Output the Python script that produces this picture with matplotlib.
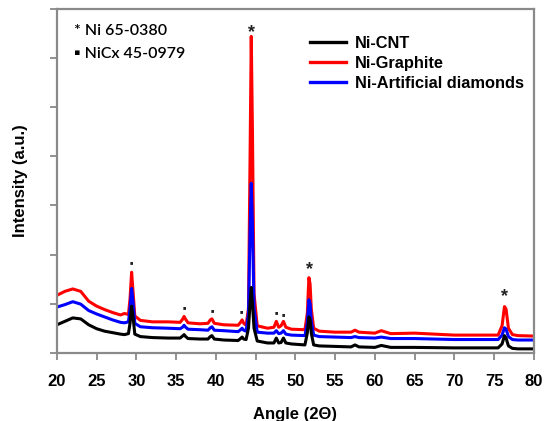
import matplotlib.pyplot as plt

plt.rcParams['font.family'] = ['Liberation Sans', 'DejaVu Sans']

# 2-theta angles shared by all three patterns
angle = [20, 21, 22, 23, 24, 25, 26, 27, 28, 28.5,
         29.0, 29.2, 29.4, 29.6, 29.8, 30.5, 32, 34, 35.5, 35.8,
         36.0, 36.2, 36.5, 38, 39.0, 39.3, 39.5, 39.8, 41, 42.8,
         43.1, 43.3, 43.5, 43.8, 44.1, 44.3, 44.45, 44.6, 44.8, 45.2,
         46.5, 47.3, 47.6, 47.9, 48.2, 48.5, 48.8, 49.5, 51.2, 51.5,
         51.7, 51.85, 52.0, 52.3, 53, 55, 57, 57.5, 58, 60,
         60.8, 62, 65, 70, 75.5, 76.0, 76.3, 76.5, 76.8, 77.3,
         78, 80]

ni_graphite = [1.17, 1.25, 1.30, 1.25, 1.05, 0.95, 0.88, 0.82, 0.77, 0.80,
               0.78, 1.10, 1.64, 1.20, 0.75, 0.66, 0.63, 0.63, 0.62, 0.68,
               0.74, 0.68, 0.61, 0.59, 0.60, 0.67, 0.69, 0.60, 0.57, 0.56,
               0.62, 0.67, 0.60, 0.56, 0.90, 4.00, 6.44, 4.50, 1.20, 0.55,
               0.50, 0.52, 0.64, 0.52, 0.55, 0.64, 0.52, 0.48, 0.47, 0.80,
               1.53, 1.40, 0.90, 0.50, 0.44, 0.42, 0.42, 0.46, 0.42, 0.40,
               0.45, 0.39, 0.40, 0.36, 0.36, 0.55, 0.94, 0.89, 0.50, 0.37,
               0.35, 0.34]

ni_diamond = [0.93, 0.98, 1.04, 0.99, 0.86, 0.79, 0.73, 0.67, 0.62, 0.61,
              0.63, 0.90, 1.31, 1.00, 0.60, 0.53, 0.51, 0.50, 0.49, 0.52,
              0.56, 0.52, 0.48, 0.47, 0.46, 0.51, 0.53, 0.46, 0.45, 0.43,
              0.47, 0.50, 0.46, 0.44, 0.80, 2.50, 3.45, 2.60, 0.90, 0.42,
              0.40, 0.40, 0.45, 0.39, 0.40, 0.45, 0.38, 0.36, 0.35, 0.60,
              1.08, 1.00, 0.65, 0.36, 0.33, 0.32, 0.31, 0.33, 0.31, 0.30,
              0.32, 0.29, 0.29, 0.27, 0.27, 0.36, 0.51, 0.48, 0.33, 0.27,
              0.26, 0.26]

ni_cnt = [0.57, 0.64, 0.71, 0.69, 0.57, 0.49, 0.44, 0.41, 0.38, 0.37,
          0.39, 0.60, 0.95, 0.70, 0.38, 0.33, 0.31, 0.30, 0.30, 0.34,
          0.37, 0.33, 0.29, 0.28, 0.28, 0.33, 0.35, 0.28, 0.26, 0.25,
          0.29, 0.32, 0.28, 0.27, 0.50, 1.00, 1.33, 1.00, 0.50, 0.24,
          0.20, 0.20, 0.30, 0.20, 0.21, 0.30, 0.20, 0.18, 0.16, 0.40,
          0.73, 0.68, 0.40, 0.16, 0.14, 0.13, 0.12, 0.16, 0.12, 0.11,
          0.15, 0.11, 0.11, 0.10, 0.10, 0.18, 0.35, 0.30, 0.14, 0.09,
          0.08, 0.08]

# phase markers above the peaks
ni_peaks = [44.5, 51.8, 76.3]
ni_mark_y = [6.52, 1.70, 1.15]
nicx_peaks = [29.4, 36.0, 39.5, 43.2, 47.6, 48.5]
nicx_mark_y = [1.83, 0.92, 0.86, 0.84, 0.82, 0.78]


def main():
    fig = plt.figure(figsize=(5.47, 4.21), dpi=100)
    ax = fig.add_axes([0.104, 0.162, 0.872, 0.817])

    l_red, = ax.plot(angle, ni_graphite, color='#ff0000', lw=2.2, label='Ni-Graphite')
    l_blue, = ax.plot(angle, ni_diamond, color='#0000ff', lw=2.2, label='Ni-Artificial diamonds')
    l_black, = ax.plot(angle, ni_cnt, color='#000000', lw=2.2, label='Ni-CNT')

    for x, y in zip(ni_peaks, ni_mark_y):
        ax.text(x, y, '*', ha='center', va='center', fontsize=13, fontweight='bold',
                color='#222222')
    for x, y in zip(nicx_peaks, nicx_mark_y):
        ax.text(x, y, '\u25a0', ha='center', va='center', fontsize=4, color='#222222')

    ax.text(0.035, 0.935, '* Ni 65-0380', transform=ax.transAxes, fontsize=11.5,
            family=['Lato', 'DejaVu Sans'], fontweight='semibold', va='center')
    ax.text(0.035, 0.868, '\u25aa NiCx 45-0979', transform=ax.transAxes, fontsize=11.5,
            family=['Lato', 'DejaVu Sans'], fontweight='semibold', va='center')

    leg = ax.legend(handles=[l_black, l_red, l_blue], loc='upper left',
                    bbox_to_anchor=(0.53, 0.922), frameon=False, borderaxespad=0,
                    borderpad=0, handlelength=2.2, handletextpad=0.55,
                    labelspacing=0.32, prop={'weight': 'bold', 'size': 11.8})
    for line in leg.get_lines():
        line.set_linewidth(2.4)

    ax.set_xlim(20, 80)
    ax.set_ylim(0, 7)
    ax.set_xticks(range(20, 81, 5))
    ax.set_yticks(range(0, 8))
    ax.set_yticklabels([])
    ax.tick_params(direction='out', length=5, width=1.2, color='#7f7f7f')
    ax.tick_params(axis='x', pad=10)
    for lbl in ax.get_xticklabels():
        lbl.set_fontweight('bold')
        lbl.set_fontsize(12)
    for sp in ax.spines.values():
        sp.set_color('#8a8a8a')
        sp.set_linewidth(1.6)

    ax.set_xlabel('Angle (2\u0398)', fontweight='bold', fontsize=12, labelpad=13)
    ax.set_ylabel('Intensity (a.u.)', fontweight='bold', fontsize=12, labelpad=12)

    fig.savefig('out.png', dpi=100)


main()
